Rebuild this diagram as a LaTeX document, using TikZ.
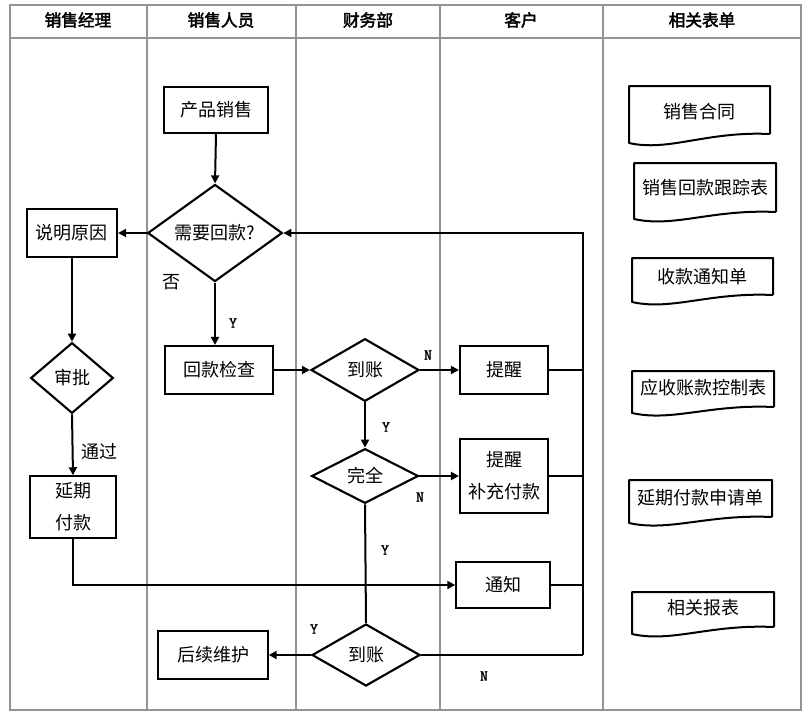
\documentclass[tikz,border=0pt]{standalone}
\usepackage{fontspec}
\newfontfamily\cjk[AutoFakeBold=2.5]{Noto Sans CJK SC}
\newfontfamily\mono[FakeBold=1.8]{Latin Modern Mono}
\usetikzlibrary{shapes.geometric,arrows.meta}
\tikzset{
  grid/.style={draw=gray!85, line width=0.9pt},
  box/.style={draw, line width=1.6pt, rectangle, inner sep=0pt, font=\cjk\fontsize{13.5}{24}\selectfont, align=center},
  dia/.style={draw, line width=1.6pt, diamond, inner sep=0pt, font=\cjk\fontsize{13.5}{16}\selectfont},
  hdr/.style={font=\cjk\bfseries\fontsize{12.5}{15}\selectfont},
  yn/.style={font=\mono\fontsize{11.5}{12}\selectfont},
  lbl/.style={font=\cjk\fontsize{13.5}{15}\selectfont},
  conn/.style={line width=1.5pt},
  arr/.style={conn, -{Triangle[length=6pt,width=6pt]}},
  docshape/.style={draw, line width=1.5pt, line join=round},
  doctext/.style={font=\cjk\fontsize{13.5}{16}\selectfont}
}
\newcommand{\docbox}[8]{% name, L, T, R, yl, yr, tx, text
  \draw[docshape] (#4,#6) -- (#4,#3) -- (#2,#3) -- (#2,#5)
    .. controls ({#2+0.28*(#4-#2)},{#5+9}) and ({#2+0.55*(#4-#2)},{#6-3}) .. (#4,#6);
  \node[doctext] (#1) at ({(#2+#4)/2},#7) {#8};
}
\begin{document}
\begin{tikzpicture}[x=0.75pt,y=-0.75pt]
\useasboundingbox (0,0) rectangle (807,714);
% table
\draw[grid] (10,5) rectangle (801,710);
\draw[grid] (10,38) -- (801,38);
\foreach \xx in {147,296,440,603} \draw[grid] (\xx,5) -- (\xx,710);
\node[hdr] (h1) at (78,20) {销售经理};
\node[hdr] (h2) at (221,20) {销售人员};
\node[hdr] (h3) at (368,20) {财务部};
\node[hdr] (h4) at (521,20) {客户};
\node[hdr] (h5) at (702,20) {相关表单};

% nodes
\node[box, minimum width=78pt, minimum height=34.5pt] (ps) at (216,110) {产品销售};
\node[dia, minimum width=101pt, minimum height=58.5pt] (xh) at (215,233) {需要回款?};
\node[box, minimum width=67.5pt, minimum height=36pt] (sm) at (72,233) {说明原因};
\node[box, minimum width=81pt, minimum height=36pt] (hk) at (219,370) {回款检查};
\node[dia, minimum width=62pt, minimum height=53pt] (sp) at (72,378) {审批};
\node[box, minimum width=64.5pt, minimum height=46pt] (yq) at (73,507) {延期\\付款};
\node[dia, minimum width=81pt, minimum height=47pt] (dz1) at (365,370) {到账};
\node[box, minimum width=66pt, minimum height=36pt] (tx1) at (504,370) {提醒};
\node[dia, minimum width=80pt, minimum height=41pt] (wq) at (365,476) {完全};
\node[box, minimum width=66pt, minimum height=55pt] (tx2) at (504,476) {提醒\\补充付款};
\node[box, minimum width=70pt, minimum height=34.5pt] (tz) at (503,585) {通知};
\node[dia, minimum width=81pt, minimum height=46.5pt] (dz2) at (366,655) {到账};
\node[box, minimum width=82pt, minimum height=36pt] (hx) at (213,655) {后续维护};

\coordinate (R1) at (583,233);
\coordinate (R2) at (583,655);

% connectors
\draw[arr] (ps.south) -- (xh.north);
\draw[arr] (xh.west) -- (sm.east);
\draw[arr] (xh.south) -- (xh.south |- hk.north);
\draw[arr] (sm.south) -- (sp.north);
\draw[arr] (sp.south) -- (yq.north);
\draw[arr] (hk.east) -- (dz1.west);
\draw[arr] (dz1.east) -- (tx1.west);
\draw[arr] (dz1.south) -- (wq.north);
\draw[arr] (wq.east) -- (tx2.west);
\draw[conn] (wq.south) -- (dz2.north);
\draw[arr] (yq.south) -- (yq.south |- tz.west) -- (tz.west);
\draw[arr] (dz2.west) -- (hx.east);
\draw[conn] (dz2.east) -- (R2);
\draw[conn] (tx1.east) -- (tx1.east -| R1);
\draw[conn] (tx2.east) -- (tx2.east -| R1);
\draw[conn] (tz.east) -- (tz.east -| R1);
\draw[arr] (R2) -- (R1) -- (xh.east);

% labels
\node[lbl] (l1) at (171,282) {否};
\node[yn] (l2) at (233,323) {Y};
\node[lbl] (l3) at (99,452) {通过};
\node[yn] (l4) at (428,355) {N};
\node[yn] (l5) at (386,427) {Y};
\node[yn] (l6) at (420,497) {N};
\node[yn] (l7) at (385,550) {Y};
\node[yn] (l8) at (314,629) {Y};
\node[yn] (l9) at (484,676) {N};

% documents
\docbox{d1}{629}{86}{770}{143}{134}{112}{销售合同}
\docbox{d2}{634}{163}{776}{219}{212}{188}{销售回款跟踪表}
\docbox{d3}{632}{258}{773}{302}{295}{277}{收款通知单}
\docbox{d4}{632}{371}{774}{413}{407}{388}{应收账款控制表}
\docbox{d5}{629}{480}{772}{523}{517}{498}{延期付款申请单}
\docbox{d6}{632}{592}{774}{634}{627}{608}{相关报表}
\end{tikzpicture}
\end{document}
